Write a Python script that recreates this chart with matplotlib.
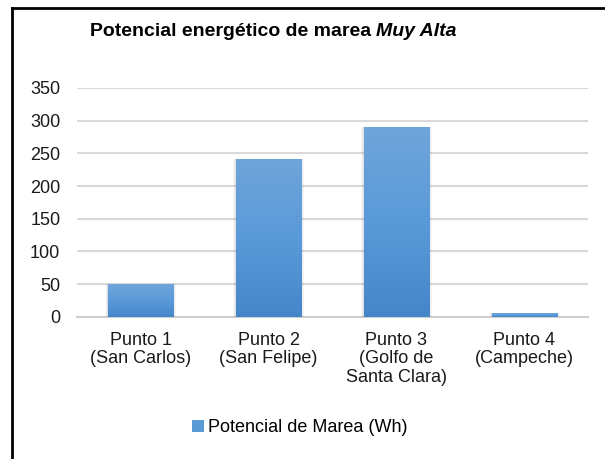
import matplotlib
matplotlib.use("Agg")
import matplotlib.pyplot as plt
import numpy as np
from matplotlib.patches import Patch, Rectangle
from matplotlib.lines import Line2D
from matplotlib.colors import LinearSegmentedColormap

plt.rcParams['font.family'] = ['Liberation Sans', 'DejaVu Sans']

categories = ["Punto 1\n(San Carlos)", "Punto 2\n(San Felipe)",
              "Punto 3\n(Golfo de\nSanta Clara)", "Punto 4\n(Campeche)"]
values = [50, 242, 291, 5]
yticks = [0, 50, 100, 150, 200, 250, 300, 350]
series_label = "Potencial de Marea (Wh)"

W, H = 605, 459
fig = plt.figure(figsize=(W / 100, H / 100), dpi=100)
fig.patch.set_facecolor('white')

ax = fig.add_axes([77 / W, 1 - 316.7 / H, (588 - 77) / W, (316.7 - 88) / H])
x = np.arange(len(categories))
bw = 0.51

# soft shadows
for xi, v in zip(x, values):
    for k, a in enumerate([0.05, 0.04, 0.03]):
        d = 0.012 * (k + 1)
        ax.add_patch(Rectangle((xi - bw / 2 - d * 0.6, -1.5 * (k + 1)), bw + d * 1.2, v + 1.5 * (k + 1),
                               facecolor='black', alpha=a, edgecolor='none', zorder=2))

bars = ax.bar(x, values, width=bw, color='#5b9bd5', zorder=3, edgecolor='none')
cmap = LinearSegmentedColormap.from_list('g', ['#4586c9', '#5a9ad9', '#6fa5da'])
grad = np.linspace(0, 1, 256).reshape(-1, 1)
for b in bars:
    x0, y0 = b.get_x(), b.get_y()
    w, h = b.get_width(), b.get_height()
    im = ax.imshow(grad, cmap=cmap, aspect='auto', origin='lower',
                   extent=[x0, x0 + w, y0, y0 + h], zorder=4)
    im.set_clip_path(b)

ax.set_xlim(-0.5, len(categories) - 0.5)
ax.set_ylim(0, 350)
ax.set_yticks(yticks)
ax.set_xticks(x)
ax.set_xticklabels(categories, fontsize=13, color='#1a1a1a', linespacing=1.1)
ax.tick_params(axis='y', length=0, pad=12, labelsize=13, labelcolor='#1a1a1a')
ax.tick_params(axis='x', length=0, pad=11)
ax.grid(axis='y', color='#d9d9d9', linewidth=1.5, zorder=0)
ax.set_axisbelow(True)
for s in ['top', 'right', 'left']:
    ax.spines[s].set_visible(False)
ax.spines['bottom'].set_color('#d0d0d0')
ax.spines['bottom'].set_linewidth(1.5)
ax.spines['bottom'].set_zorder(1)

# title
ty = 1 - 31 / H
fig.text(371 / W, ty, "Potencial energético de marea", ha='right', va='center',
         fontsize=14, fontweight='bold', color='black')
fig.text(376 / W, ty, "Muy Alta", ha='left', va='center',
         fontsize=14, fontweight='bold', fontstyle='italic', color='black')

# legend
handle = Patch(facecolor='#5b9bd5', edgecolor='none')
fig.legend([handle], [series_label], loc='center', bbox_to_anchor=(300 / W, 1 - 428 / H),
           frameon=False, fontsize=13, handlelength=0.62, handleheight=0.62,
           handletextpad=0.25, borderaxespad=0)

# outer frame (left and top edges visible)
fig.add_artist(Line2D([12 / W, 12 / W], [0, 1 - 8 / H], color='black', linewidth=2,
                      transform=fig.transFigure))
fig.add_artist(Line2D([12 / W, 1], [1 - 8 / H, 1 - 8 / H], color='black', linewidth=2,
                      transform=fig.transFigure))

fig.savefig("out.png", dpi=100)
